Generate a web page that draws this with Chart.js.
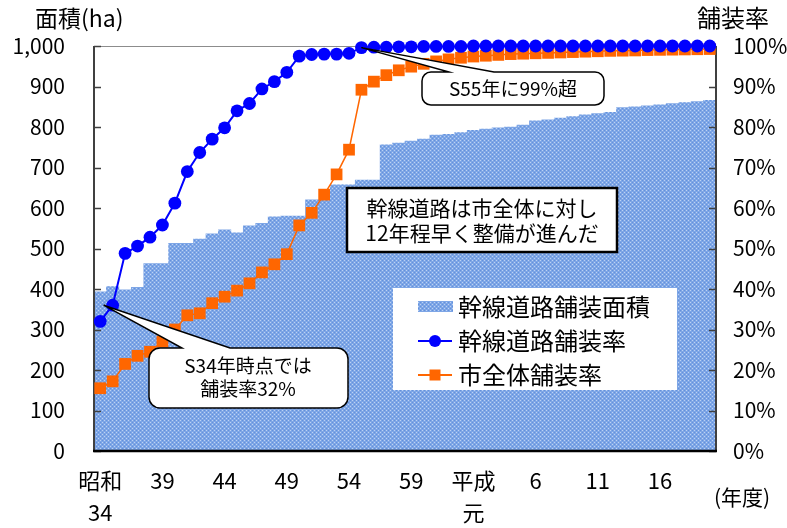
<!DOCTYPE html>
<html lang="ja">
<head>
<meta charset="utf-8">
<script src="https://cdn.jsdelivr.net/npm/chart.js@4"></script>
<style>
html,body{margin:0;padding:0;background:#fff;}
canvas{display:block;}
</style>
</head>
<body>
<canvas id="c" width="787" height="528"></canvas>
<script>
// 年度 (昭和34年度〜平成20年度)
const fiscalYears = [
  'S34','S35','S36','S37','S38','S39','S40','S41','S42','S43',
  'S44','S45','S46','S47','S48','S49','S50','S51','S52','S53',
  'S54','S55','S56','S57','S58','S59','S60','S61','S62','S63',
  'H1','H2','H3','H4','H5','H6','H7','H8','H9','H10',
  'H11','H12','H13','H14','H15','H16','H17','H18','H19','H20'
];

// 軸に表示する年度ラベル
const tickIndex = [0, 5, 10, 15, 20, 25, 30, 35, 40, 45];
const tickText = [['昭和', '34'], '39', '44', '49', '54', '59', ['平成', '元'], '6', '11', '16'];

// 幹線道路舗装面積 (ha)
const trunkPavedArea = [
  393, 406, 398, 404, 463, 463, 513, 513, 523, 536,
  546, 539, 556, 562, 578, 580, 580, 620, 620, 657,
  657, 669, 669, 756, 760, 765, 770, 780, 782, 786,
  792, 795, 798, 800, 805, 815, 818, 822, 826, 830,
  833, 836, 848, 850, 852, 855, 858, 860, 863, 866
];

// 幹線道路舗装率 (%)
const trunkPavedRate = [
  32, 36, 48.8, 50.6, 52.8, 55.8, 61.2, 69.0, 73.7, 77.0,
  79.8, 84.0, 85.8, 89.4, 91.2, 93.5, 97.5, 97.9, 98.0, 98.0,
  98.2, 99.6, 99.7, 99.7, 99.8, 99.8, 99.9, 99.9, 99.9, 99.9,
  100, 100, 100, 100, 100, 100, 100, 100, 100, 100,
  100, 100, 100, 100, 100, 100, 100, 100, 100, 100
];

// 市全体舗装率 (%)
const cityPavedRate = [
  15.5, 17.2, 21.5, 23.5, 24.5, 27.0, 30.0, 33.5, 34.0, 36.5,
  38.1, 39.6, 41.4, 44.1, 46.1, 48.6, 55.7, 58.8, 63.3, 68.3,
  74.4, 89.2, 91.2, 92.8, 94.0, 94.9, 95.6, 96.2, 96.7, 97.1,
  97.4, 97.6, 97.8, 98.0, 98.1, 98.2, 98.3, 98.4, 98.5, 98.6,
  98.7, 98.8, 98.85, 98.9, 99.0, 99.05, 99.1, 99.15, 99.2, 99.25
];

const FONT = '"Noto Sans CJK JP", "Noto Sans", sans-serif';
const canvas = document.getElementById('c');
const ctx = canvas.getContext('2d');

// 面積の網掛け模様
function makeDotPattern(g) {
  const t = document.createElement('canvas');
  t.width = 4; t.height = 4;
  const p = t.getContext('2d');
  p.fillStyle = '#7ea6e6'; p.fillRect(0, 0, 4, 4);
  p.fillStyle = '#bcd2f3'; p.fillRect(0, 0, 1, 1); p.fillRect(2, 2, 1, 1);
  p.fillStyle = '#6391dc'; p.fillRect(2, 0, 1, 1); p.fillRect(0, 2, 1, 1);
  return g.createPattern(t, 'repeat');
}
const areaPattern = makeDotPattern(ctx);

function calloutPath(g, x0, y0, x1, y1, r, tip, baseA, baseB) {
  g.beginPath();
  g.moveTo(x0 + r, y0);
  g.lineTo(baseA, y0);
  g.lineTo(tip.x, tip.y);
  g.lineTo(baseB, y0);
  g.lineTo(x1 - r, y0);
  g.arcTo(x1, y0, x1, y0 + r, r);
  g.lineTo(x1, y1 - r);
  g.arcTo(x1, y1, x1 - r, y1, r);
  g.lineTo(x0 + r, y1);
  g.arcTo(x0, y1, x0, y1 - r, r);
  g.lineTo(x0, y0 + r);
  g.arcTo(x0, y0, x0 + r, y0, r);
  g.closePath();
}

// 軸枠・目盛 (面積の後、折れ線の前に描く)
const framePlugin = {
  id: 'frame',
  afterDatasetDraw(chart, args) {
    if (args.index !== 0) return;
    const { ctx: g, chartArea: a, scales } = chart;
    g.save();
    g.strokeStyle = '#8c8c8c'; g.lineWidth = 1;
    g.beginPath(); g.moveTo(a.left, a.top + 0.5); g.lineTo(a.right, a.top + 0.5); g.stroke();
    g.strokeStyle = '#404040'; g.lineWidth = 2;
    g.beginPath(); g.moveTo(a.left, a.top); g.lineTo(a.left, a.bottom); g.stroke();
    g.beginPath(); g.moveTo(a.right, a.top); g.lineTo(a.right, a.bottom); g.stroke();
    g.lineWidth = 1.5;
    scales.y.ticks.forEach(t => {
      const y = Math.round(scales.y.getPixelForValue(t.value)) + 0.5;
      g.beginPath(); g.moveTo(a.left, y); g.lineTo(a.left + 7, y); g.stroke();
    });
    scales.y2.ticks.forEach(t => {
      const y = Math.round(scales.y2.getPixelForValue(t.value)) + 0.5;
      g.beginPath(); g.moveTo(a.right - 7, y); g.lineTo(a.right, y); g.stroke();
    });
    g.strokeStyle = '#000'; g.lineWidth = 2.5;
    g.beginPath(); g.moveTo(a.left - 1, a.bottom); g.lineTo(a.right + 1, a.bottom); g.stroke();
    g.restore();
  }
};

// 吹き出し・説明・凡例・軸タイトル
const notesPlugin = {
  id: 'notes',
  afterDatasetsDraw(chart) {
    const { ctx: g, scales } = chart;
    const xs = scales.x, y2 = scales.y2;
    g.save();
    g.fillStyle = '#000';
    g.textBaseline = 'middle';

    // S55 callout
    const tip55 = { x: xs.getPixelForValue(21), y: y2.getPixelForValue(trunkPavedRate[21]) };
    calloutPath(g, 422, 72, 604, 105, 9, tip55, 449, 494);
    g.fillStyle = '#fff'; g.fill();
    g.strokeStyle = '#000'; g.lineWidth = 1.5; g.stroke();
    g.fillStyle = '#000';
    g.font = '19px ' + FONT; g.textAlign = 'center';
    g.fillText('S55年に99%超', 513, 89);

    // S34 callout
    const tip34 = { x: xs.getPixelForValue(1) - 9, y: y2.getPixelForValue(trunkPavedRate[1]) };
    calloutPath(g, 149, 348, 348, 408, 11, tip34, 182, 230);
    g.fillStyle = '#fff'; g.fill();
    g.strokeStyle = '#000'; g.lineWidth = 1.5; g.stroke();
    g.fillStyle = '#000';
    g.font = '19px ' + FONT;
    g.fillText('S34年時点では', 248, 366);
    g.fillText('舗装率32%', 248, 389);

    // 説明ボックス
    g.fillStyle = '#fff'; g.fillRect(347, 188, 270, 64);
    g.strokeStyle = '#000'; g.lineWidth = 2.5; g.strokeRect(347, 188, 270, 64);
    g.fillStyle = '#000';
    g.font = '21px ' + FONT;
    g.fillText('幹線道路は市全体に対し', 482, 208);
    g.fillText('12年程早く整備が進んだ', 482, 233);

    // 凡例
    const ds = chart.data.datasets;
    g.fillStyle = '#fff'; g.fillRect(393, 288, 284, 102);
    g.fillStyle = areaPattern; g.fillRect(418, 301, 35, 11);
    g.lineWidth = 2;
    g.strokeStyle = '#0000ff'; g.beginPath(); g.moveTo(418, 341); g.lineTo(452, 341); g.stroke();
    g.fillStyle = '#0000ff'; g.beginPath(); g.arc(435, 341, 6, 0, Math.PI * 2); g.fill();
    g.strokeStyle = '#ff6600'; g.beginPath(); g.moveTo(418, 375); g.lineTo(452, 375); g.stroke();
    g.fillStyle = '#ff6600'; g.fillRect(429.5, 369.5, 11, 11);
    g.fillStyle = '#000'; g.textAlign = 'left';
    g.font = '24px ' + FONT;
    g.fillText(ds[0].label, 458, 307);
    g.fillText(ds[1].label, 458, 341);
    g.fillText(ds[2].label, 458, 375);

    // 軸タイトル・単位
    g.font = '23px ' + FONT;
    g.fillText('面積(ha)', 35, 18);
    g.font = '24px ' + FONT;
    g.fillText('舗装率', 697, 18);
    g.font = '21px ' + FONT; g.textAlign = 'center';
    g.fillText('(年度)', 742, 497);
    g.restore();
  }
};

new Chart(ctx, {
  data: {
    labels: fiscalYears,
    datasets: [
      {
        type: 'bar', label: '幹線道路舗装面積', data: trunkPavedArea, yAxisID: 'y',
        backgroundColor: areaPattern, borderWidth: 0,
        barPercentage: 1, categoryPercentage: 1, order: 2
      },
      {
        type: 'line', label: '幹線道路舗装率', data: trunkPavedRate, yAxisID: 'y2',
        borderColor: '#0000ff', backgroundColor: '#0000ff', borderWidth: 2,
        pointStyle: 'circle', pointRadius: 6.4, pointBorderWidth: 0,
        tension: 0, clip: false, order: 0
      },
      {
        type: 'line', label: '市全体舗装率', data: cityPavedRate, yAxisID: 'y2',
        borderColor: '#ff6600', backgroundColor: '#ff6600', borderWidth: 1.5,
        pointStyle: 'rect', pointRadius: 8.3, pointBorderWidth: 0,
        tension: 0, clip: false, order: 1
      }
    ]
  },
  options: {
    responsive: false,
    animation: false,
    events: [],
    locale: 'en-US',
    layout: { padding: { top: 46, left: 0, right: 0, bottom: 0 } },
    plugins: { legend: { display: false }, tooltip: { enabled: false } },
    scales: {
      x: {
        type: 'category', offset: true,
        grid: { display: false, drawTicks: false }, border: { display: false },
        ticks: {
          autoSkip: false, maxRotation: 0, minRotation: 0, padding: 14, color: '#000',
          font: { family: FONT, size: 22, lineHeight: 1.45 },
          callback: (v, i) => { const k = tickIndex.indexOf(i); return k >= 0 ? tickText[k] : ''; }
        },
        afterFit: s => { s.height = 77; }
      },
      y: {
        position: 'left', min: 0, max: 1000,
        grid: { display: false, drawTicks: false }, border: { display: false },
        ticks: { stepSize: 100, padding: 29, color: '#000', font: { family: FONT, size: 21 } },
        afterFit: s => { s.width = 94; }
      },
      y2: {
        position: 'right', min: 0, max: 100,
        grid: { display: false, drawTicks: false }, border: { display: false },
        ticks: { stepSize: 10, padding: 17, color: '#000', font: { family: FONT, size: 21 },
          callback: v => v + '%' },
        afterFit: s => { s.width = 71; }
      }
    }
  },
  plugins: [framePlugin, notesPlugin]
});
</script>
</body>
</html>
